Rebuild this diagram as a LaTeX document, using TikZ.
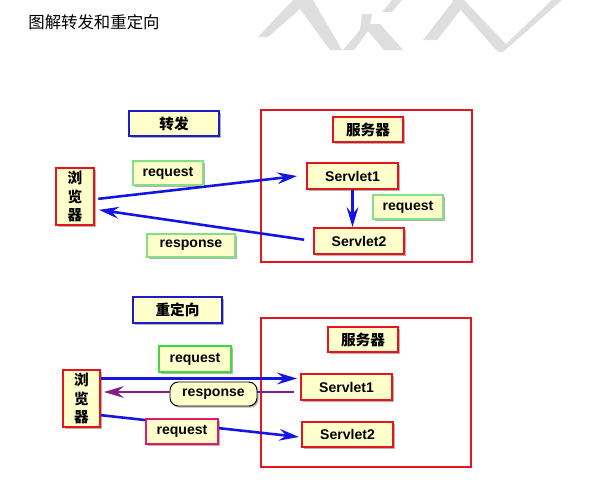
\documentclass[tikz,border=0pt]{standalone}
\usepackage{fontspec}
\setmainfont{Liberation Sans}
\newfontfamily\cjk{Noto Sans CJK SC}
\usetikzlibrary{arrows.meta,shadows}

\definecolor{boxfill}{HTML}{FFFFCC}
\definecolor{boxred}{HTML}{E8141C}
\definecolor{boxblue}{HTML}{1C1CC8}
\definecolor{boxgreen}{HTML}{84E084}
\definecolor{boxlime}{HTML}{3CDC3C}
\definecolor{boxpink}{HTML}{E0186C}
\definecolor{flowblue}{HTML}{1414E6}
\definecolor{flowpurple}{HTML}{80208C}
\definecolor{wmgray}{HTML}{DEDEDE}

\tikzset{
  card/.style={draw, line width=1.6pt, fill=boxfill, inner sep=0pt,
    font=\bfseries\fontsize{12}{14}\selectfont,
    drop shadow={shadow xshift=0.05cm, shadow yshift=-0.05cm, fill=black, opacity=0.3}},
  redcard/.style={card, draw=boxred},
  bluecard/.style={card, draw=boxblue},
  greencard/.style={card, draw=boxgreen},
  cjkcard/.style={font=\cjk\bfseries\fontsize{12.5}{15.5}\selectfont},
  serverbox/.style={draw=boxred, line width=1.8pt, fill=white, inner sep=0pt,
    drop shadow={shadow xshift=0.04cm, shadow yshift=-0.04cm, fill=black, opacity=0.2}},
  flow/.style={draw=flowblue, line width=2.2pt, -{Stealth[length=17pt,width=10pt,inset=6pt]}},
  back/.style={flow, draw=flowpurple},
}

\begin{document}
\begin{tikzpicture}[x=0.03cm, y=-0.03cm]
\useasboundingbox (0,0) rectangle (604,493);

% watermark
\fill[wmgray] (258,37) -- (268,37) -- (300,9) -- (330,50) -- (342,50) -- (313,0) -- (293,0) -- cycle;
\fill[wmgray] (343,50) -- (354,50) -- (368,31) -- (384,50) -- (403,50) -- (380,24) -- (370,24) -- (372,14) -- (362,14) -- (360,30) -- cycle;
\fill[wmgray] (382,12) -- (392,12) -- (402,0) -- (392,0) -- cycle;
\fill[wmgray] (423,40) -- (437,40) -- (462,8) -- (454,0) -- cycle;
\fill[wmgray] (452,0) -- (464,0) -- (506,44) -- (552,0) -- (562,0) -- (503,52) -- (498,52) -- cycle;

\node (title) at (94,22) {\cjk\fontsize{14}{16}\selectfont 图解转发和重定向};

% forward
\node[serverbox, minimum width=6.33cm, minimum height=4.56cm] (serverA) at (366.5,186) {};
\node[bluecard, cjkcard, minimum width=2.7cm, minimum height=0.75cm] (fwd) at (174,123.5) {转发};
\node[redcard, cjkcard, minimum width=2.1cm, minimum height=0.75cm] (srvA) at (368,129.5) {服务器};
\node[redcard, minimum width=2.73cm, minimum height=0.78cm] (sA1) at (352.5,176) {Servlet1};
\node[redcard, minimum width=2.7cm, minimum height=0.78cm] (sA2) at (359,241) {Servlet2};
\node[redcard, cjkcard, align=center, minimum width=1.14cm, minimum height=1.71cm] (brA) at (75,196.5) {浏\\览\\器};

\draw[flow, shorten >=0.27cm] ([xshift=0.1cm, yshift=-0.07cm]brA.east) -- ([yshift=0.03cm]sA1.west);
\draw[flow, shorten <=0.27cm] (sA2.west) -- ([xshift=0.12cm, yshift=-0.4cm]brA.east);
\draw[flow] (sA1.south) -- (sA1.south |- sA2.north);

\node[greencard, minimum width=2.1cm, minimum height=0.72cm] (reqA1) at (168,173) {request};
\node[greencard, minimum width=2.64cm, minimum height=0.69cm] (respA) at (191,245.5) {response};
\node[greencard, minimum width=2.1cm, minimum height=0.72cm] (reqA2) at (408,207) {request};

% redirect
\node[serverbox, minimum width=6.3cm, minimum height=4.47cm] (serverB) at (366,392.5) {};
\node[bluecard, cjkcard, minimum width=2.67cm, minimum height=0.78cm] (redir) at (177.5,310) {重定向};
\node[redcard, cjkcard, minimum width=2.1cm, minimum height=0.75cm] (srvB) at (363,339.5) {服务器};
\node[redcard, minimum width=2.73cm, minimum height=0.78cm] (sB1) at (346.5,387) {Servlet1};
\node[redcard, minimum width=2.73cm, minimum height=0.75cm] (sB2) at (347.5,434.5) {Servlet2};
\node[redcard, cjkcard, align=center, minimum width=1.11cm, minimum height=1.71cm] (brB) at (81.5,398.5) {浏\\览\\器};

\coordinate (goB) at ([yshift=0.6cm]brB.east);
\coordinate (retB) at ([xshift=-0.18cm, yshift=-0.15cm]sB1.west);
\draw[flow, shorten >=0.09cm] (goB) -- (goB -| sB1.west);
\draw[back, shorten >=0.09cm] (retB) -- (retB -| brB.east);
\draw[flow, shorten >=0.06cm] ([yshift=-0.5cm]brB.east) -- ([yshift=-0.08cm]sB2.west);

\node[card, draw=boxlime, minimum width=2.16cm, minimum height=0.78cm] (reqB1) at (195,359) {request};
\node[card, draw=black, line width=0.8pt, rounded corners=0.25cm, minimum width=2.61cm, minimum height=0.72cm] (respB) at (213.5,394) {response};
\node[card, draw=boxpink, minimum width=2.16cm, minimum height=0.75cm] (reqB2) at (182,431.5) {request};
\end{tikzpicture}
\end{document}
